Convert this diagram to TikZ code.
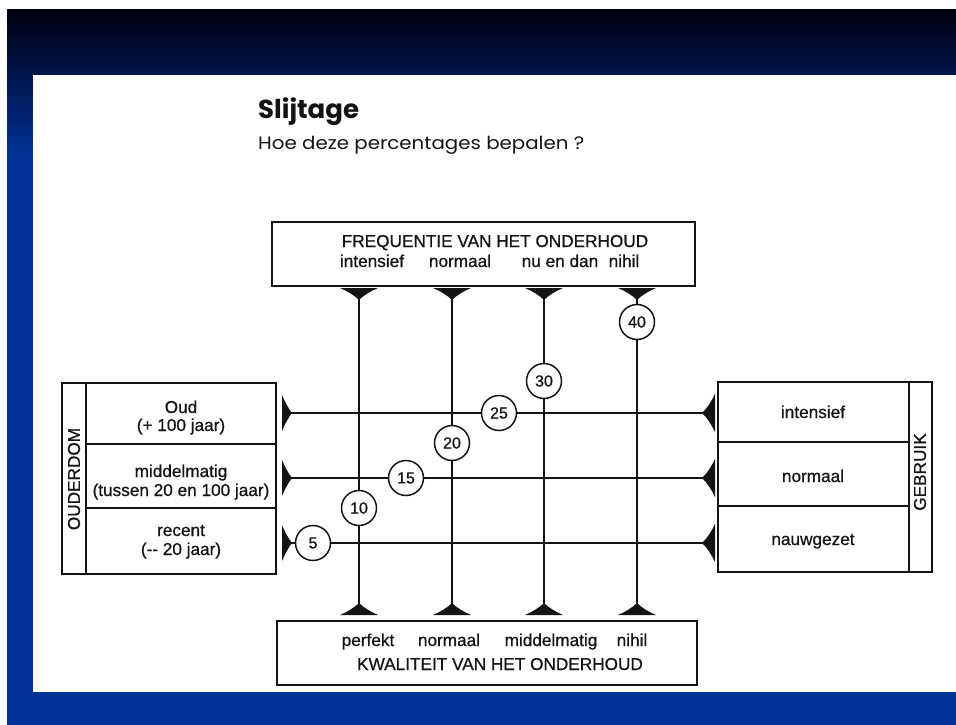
\documentclass[tikz,border=0pt]{standalone}
\usepackage{fontspec}
\setmainfont{Liberation Sans}
\newfontfamily\diagfont[FakeBold=0.7]{Liberation Sans}
\newfontfamily\titlefont{Poppins}
\definecolor{bgtop}{RGB}{0,0,16}
\definecolor{bgbot}{RGB}{0,51,153}
\definecolor{ink}{RGB}{20,20,20}
\tikzset{
  tdown/.pic={\fill[ink] (-19,0) -- (19,0) .. controls (12,3) and (5,7) .. (0,12) .. controls (-5,7) and (-12,3) .. (-19,0) -- cycle;},
  tup/.pic={\fill[ink] (-19,0) -- (19,0) .. controls (12,-3) and (5,-7) .. (0,-12) .. controls (-5,-7) and (-12,-3) .. (-19,0) -- cycle;},
  tright/.pic={\fill[ink] (0,-18) -- (0,18) .. controls (3,11) and (6,5) .. (10,0) .. controls (6,-5) and (3,-11) .. (0,-18) -- cycle;},
  tleft/.pic={\fill[ink] (0,-19) -- (0,19) .. controls (-3.5,12) and (-7.5,5) .. (-13,0) .. controls (-7.5,-5) and (-3.5,-12) .. (0,-19) -- cycle;},
  frame/.style={draw=ink, line width=1.2pt},
  lbl/.style={font=\diagfont\fontsize{17.2}{19}\selectfont, inner sep=0pt, anchor=base, text=ink},
  num/.style={circle, draw=ink, line width=1.5pt, minimum size=35pt, inner sep=0pt, font=\diagfont\fontsize{16}{18}\selectfont, text=ink},
  conn/.style={draw=ink, line width=1.5pt},
}
\begin{document}
\begin{tikzpicture}[x=1pt,y=-1pt]
\useasboundingbox (0,0) rectangle (956,725);
% background
\fill[white] (0,0) rectangle (956,725);
\fill[bgbot] (7,10) rectangle (956,725);
\shade[top color=bgtop, bottom color=bgbot] (7,10) rectangle (956,160);
\fill[white] (33,75) rectangle (956,692);
% title
\node[anchor=base west, inner sep=0pt, text=ink, font=\titlefont\bfseries\fontsize{26}{29}\selectfont] (title) at (258,118) {Slijtage};
\node[anchor=base west, inner sep=0pt, text=ink, xscale=1.1, font=\titlefont\fontsize{18}{20}\selectfont] (sub) at (258,149) {Hoe deze percentages bepalen ?};
% top box
\draw[frame] (272,222) rectangle (695,286);
\node[lbl] (freq) at (495,247) {FREQUENTIE VAN HET ONDERHOUD};
\node[lbl] (fi) at (372,267) {intensief};
\node[lbl] (fn) at (460,267) {normaal};
\node[lbl] (fd) at (560,267) {nu en dan};
\node[lbl] (fh) at (624,267) {nihil};
% bottom box
\draw[frame] (277,621) rectangle (697,685);
\node[lbl] (kp) at (368,646) {perfekt};
\node[lbl] (kn) at (449,646) {normaal};
\node[lbl] (km) at (551,646) {middelmatig};
\node[lbl] (kh) at (632,646) {nihil};
\node[lbl] (kwal) at (500,670) {KWALITEIT VAN HET ONDERHOUD};
% left box
\draw[frame] (62,383) rectangle (276,574);
\draw[frame] (86,383) -- (86,574);
\draw[frame] (86,444) -- (276,444);
\draw[frame] (86,508) -- (276,508);
\node[lbl, rotate=90, anchor=center] (oud) at (74,479) {OUDERDOM};
\node[lbl] (o1a) at (181,413) {Oud};
\node[lbl] (o1b) at (181,431) {(+ 100 jaar)};
\node[lbl] (o2a) at (181,477) {middelmatig};
\node[lbl] (o2b) at (181,496) {(tussen 20 en 100 jaar)};
\node[lbl] (o3a) at (181,536) {recent};
\node[lbl] (o3b) at (181,555) {(-- 20 jaar)};
% right box
\draw[frame] (718,382) rectangle (932,572);
\draw[frame] (909,382) -- (909,572);
\draw[frame] (718,442) -- (909,442);
\draw[frame] (718,506) -- (909,506);
\node[lbl, rotate=90, anchor=center] (geb) at (920,472) {GEBRUIK};
\node[lbl] (g1) at (813,418) {intensief};
\node[lbl] (g2) at (813,482) {normaal};
\node[lbl] (g3) at (813,545) {nauwgezet};
% triangles and tips
\foreach \x/\n in {359/1,452/2,544/3,637/4}{
  \pic at (\x,288) {tdown};
  \pic at (\x,615) {tup};
  \coordinate (top\n) at (\x,299);
  \coordinate (bot\n) at (\x,604);
}
\foreach \y/\n in {413/1,478/2,543/3}{
  \pic at (282,\y) {tright};
  \pic at (715,\y) {tleft};
  \coordinate (lft\n) at (291,\y);
  \coordinate (rgt\n) at (703,\y);
}
% circles
\node[num] (c40) at (637,322) {40};
\node[num] (c30) at (544,381) {30};
\node[num] (c25) at (499,413) {25};
\node[num] (c20) at (452,443) {20};
\node[num] (c15) at (406,478) {15};
\node[num] (c10) at (359,508) {10};
\node[num] (c5) at (313,543) {5};
% connectors
\draw[conn] (top1) -- (c10) -- (bot1);
\draw[conn] (top2) -- (c20) -- (bot2);
\draw[conn] (top3) -- (c30) -- (bot3);
\draw[conn] (top4) -- (c40) -- (bot4);
\draw[conn] (lft1) -- (c25) -- (rgt1);
\draw[conn] (lft2) -- (c15) -- (rgt2);
\draw[conn] (lft3) -- (c5) -- (rgt3);
\end{tikzpicture}
\end{document}
